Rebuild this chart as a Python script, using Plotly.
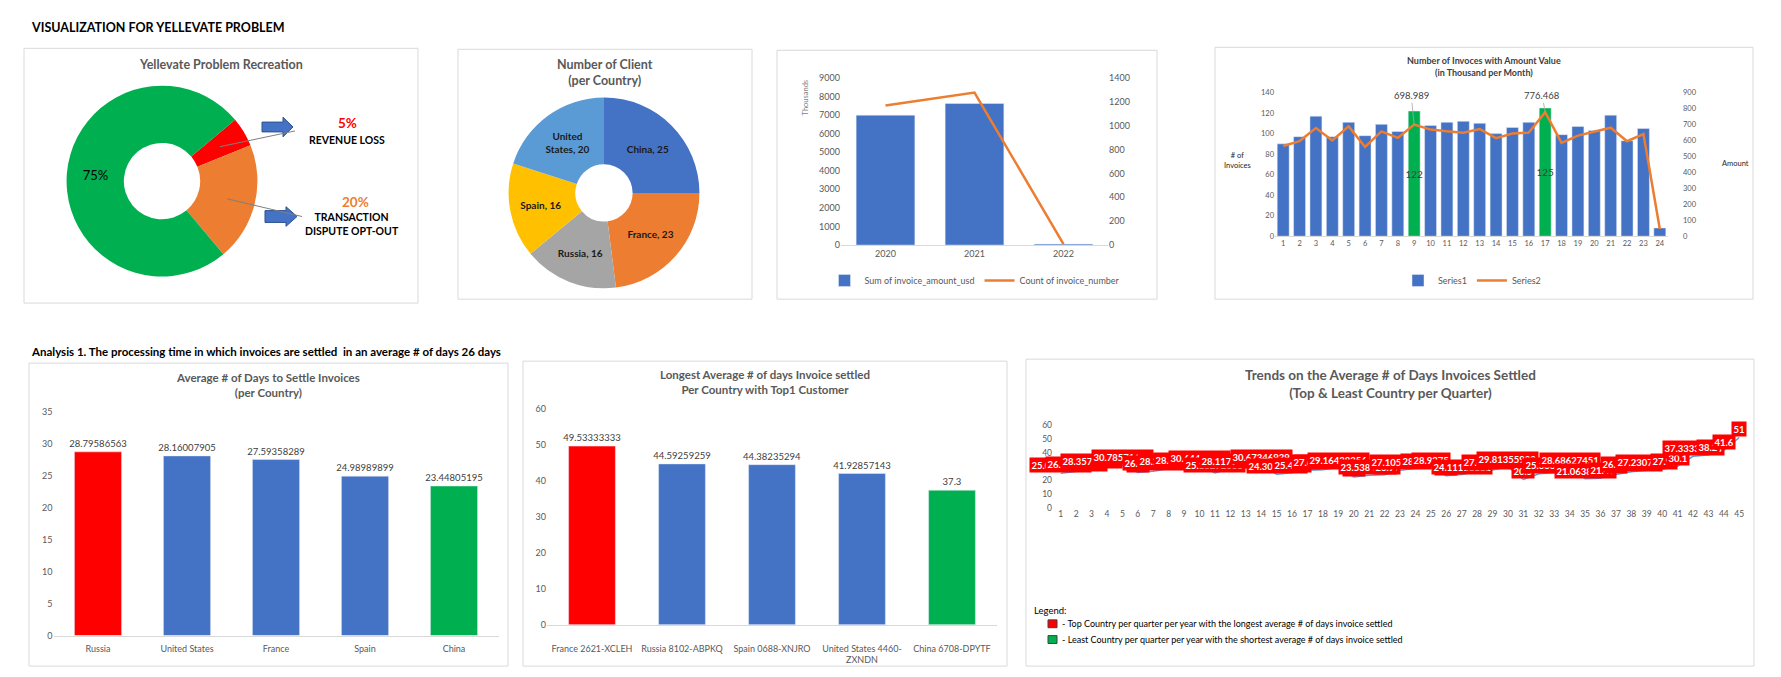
import plotly.graph_objects as go

W, H = 1781, 677
FONT = "Lato"
GREY = "#595959"
DARK = "#404040"
BLUE = "#4472C4"
ORANGE = "#ED7D31"
GREEN = "#00B050"
RED = "#FF0000"
FRAME = "#D9D9D9"

# ---- data ----
problem_labels = ["Revenue loss", "Transaction dispute opt-out", "Settled"]
problem_share = [5, 20, 75]
problem_colors = [RED, ORANGE, GREEN]

client_countries = ["China", "France", "Russia", "Spain", "United States"]
client_counts = [25, 23, 16, 16, 20]
client_colors = ["#4472C4", "#ED7D31", "#A5A5A5", "#FFC000", "#5B9BD5"]

years = ["2020", "2021", "2022"]
amount_usd_thousands = [6990, 7620, 52]
invoice_counts = [1168, 1276, 8]

months = [1, 2, 3, 4, 5, 6, 7, 8, 9, 10, 11, 12,
          13, 14, 15, 16, 17, 18, 19, 20, 21, 22, 23, 24]
invoices_per_month = [90, 97, 117, 97, 111, 98, 109, 102, 122, 108, 111, 112,
                      110, 100, 106, 111, 125, 99, 107, 103, 118, 93, 105, 8]
amount_per_month = [565, 596, 678, 600, 688, 559, 657, 616, 698.989, 668, 657, 649,
                    672, 614, 643, 649, 776.468, 585, 630, 655, 680, 595, 640, 45]
peak_months = [9, 17]

settle_countries = ["Russia", "United States", "France", "Spain", "China"]
settle_days = [28.79586563, 28.16007905, 27.59358289, 24.98989899, 23.44805195]

top_customers = ["France 2621-XCLEH", "Russia 8102-ABPKQ", "Spain 0688-XNJRO",
                 "United States 4460-<br>ZXNDN", "China 6708-DPYTF"]
top_customer_days = [49.53333333, 44.59259259, 44.38235294, 41.92857143, 37.3]

quarters = [1, 2, 3, 4, 5, 6, 7, 8, 9, 10, 11, 12, 13, 14, 15, 16, 17, 18, 19, 20,
            21, 22, 23, 24, 25, 26, 27, 28, 29, 30, 31, 32, 33, 34, 35, 36, 37, 38,
            39, 40, 41, 42, 43, 44, 45]
quarter_days = [25.04166667, 26.21052632, 28.35714286, 29.12, 30.78571429,
                25.5, 26.42857143, 28.22222222, 28.64705882, 30.64405797,
                25.18292683, 28.11764706, 29.2, 30.67346939, 24.30769231,
                25.4375, 27.25, 27.61538462, 29.16438356, 22.4,
                23.53846154, 23.9, 27.10526316, 28.46, 28.9275,
                23.2, 24.11111111, 26.3, 27.42857143, 29.81355932,
                20.5, 24.584, 25.33333333, 28.68627451, 21.06382979,
                21.4, 24.2, 26.14285714, 27.23076923, 27.9,
                30.1, 37.33333333, 38.2, 41.6, 51]


def fx(x):
    return x / W


def fy(y):
    return 1 - y / H


def note(text, x, y, size, color=DARK, bold=False, xanchor="center"):
    return dict(text=text, x=fx(x), y=fy(y), xref="paper", yref="paper",
                showarrow=False, xanchor=xanchor, yanchor="middle",
                font=dict(family=FONT, size=size, color=color,
                          weight="bold" if bold else "normal"))


def frame(x0, y0, x1, y1):
    return dict(type="rect", xref="paper", yref="paper", layer="below",
                x0=fx(x0), x1=fx(x1), y0=fy(y1), y1=fy(y0),
                line=dict(color=FRAME, width=1), fillcolor="rgba(0,0,0,0)")


def pie_domain(cx, cy, r):
    return dict(x=[fx(cx - r), fx(cx + r)], y=[fy(cy + r), fy(cy - r)])


def axis(domain, size=9, **kw):
    a = dict(domain=domain, showgrid=False, zeroline=False, ticks="",
             tickfont=dict(family=FONT, size=size, color=GREY))
    a.update(kw)
    return a


def block_arrow(x0, xh, xt, yc, sh, hh):
    pts = [(x0, yc - sh), (xh, yc - sh), (xh, yc - hh), (xt, yc),
           (xh, yc + hh), (xh, yc + sh), (x0, yc + sh)]
    path = "M " + " L ".join(f"{fx(x):.5f},{fy(y):.5f}" for x, y in pts) + " Z"
    return dict(type="path", xref="paper", yref="paper", path=path,
                fillcolor=BLUE, line=dict(color="#2F528F", width=1))


def leader(x0, y0, x1, y1):
    return dict(type="line", xref="paper", yref="paper",
                x0=fx(x0), y0=fy(y0), x1=fx(x1), y1=fy(y1),
                line=dict(color="#7F7F7F", width=1))


fig = go.Figure()

# donut: problem recreation
fig.add_trace(go.Pie(
    labels=problem_labels, values=problem_share, sort=False,
    direction="clockwise", rotation=50, hole=0.4,
    marker=dict(colors=problem_colors, line=dict(width=0)),
    text=[f"{v}%" if lab == "Settled" else "" for lab, v in zip(problem_labels, problem_share)],
    textinfo="text", textposition="inside", insidetextorientation="horizontal",
    textfont=dict(family=FONT, size=13, color="black"),
    domain=pie_domain(162, 178, 97), showlegend=False, hoverinfo="label+percent"))

# donut: clients per country
fig.add_trace(go.Pie(
    labels=client_countries, values=client_counts, sort=False,
    direction="clockwise", rotation=0, hole=0.3,
    marker=dict(colors=client_colors, line=dict(width=0)),
    text=[f"{c.replace(' ', '<br>')}, {n}" for c, n in zip(client_countries, client_counts)],
    textinfo="text", textposition="inside", insidetextorientation="horizontal",
    textfont=dict(family=FONT, size=10, color="#1A1A1A", weight="bold"),
    domain=pie_domain(604, 190, 97), showlegend=False))

# yearly amount and count
fig.add_trace(go.Bar(
    x=years, y=amount_usd_thousands, name="Sum of invoice_amount_usd",
    marker_color=BLUE, width=0.66, xaxis="x", yaxis="y", legend="legend"))
fig.add_trace(go.Scatter(
    x=years, y=invoice_counts, name="Count of invoice_number", mode="lines",
    line=dict(color=ORANGE, width=2.5), xaxis="x", yaxis="y2", legend="legend"))

# monthly invoices and amount
fig.add_trace(go.Bar(
    x=months, y=invoices_per_month, name="Series1", width=0.73,
    marker_color=[GREEN if m in peak_months else BLUE for m in months],
    text=[str(n) if m in peak_months else "" for m, n in zip(months, invoices_per_month)],
    textposition="inside", insidetextanchor="middle", constraintext="none",
    textangle=0, textfont=dict(family=FONT, size=10, color=DARK),
    xaxis="x2", yaxis="y3", legend="legend2"))
fig.add_trace(go.Scatter(
    x=months, y=amount_per_month, name="Series2", mode="lines",
    line=dict(color=ORANGE, width=2.5), xaxis="x2", yaxis="y4", legend="legend2"))

# average days per country
fig.add_trace(go.Bar(
    x=settle_countries, y=settle_days, width=0.53,
    marker_color=[RED if v == max(settle_days) else GREEN if v == min(settle_days) else BLUE
                  for v in settle_days],
    text=[str(v) for v in settle_days], textposition="outside",
    constraintext="none", cliponaxis=False, textangle=0,
    textfont=dict(family=FONT, size=9.5, color=DARK),
    xaxis="x3", yaxis="y5", showlegend=False))

# longest average per top customer
fig.add_trace(go.Bar(
    x=top_customers, y=top_customer_days, width=0.52,
    marker_color=[RED if v == max(top_customer_days) else GREEN if v == min(top_customer_days) else BLUE
                  for v in top_customer_days],
    text=[str(v) for v in top_customer_days], textposition="outside",
    constraintext="none", cliponaxis=False, textangle=0,
    textfont=dict(family=FONT, size=9.5, color=DARK),
    xaxis="x4", yaxis="y6", showlegend=False))

# quarterly trend
fig.add_trace(go.Scatter(
    x=quarters, y=quarter_days, mode="lines",
    line=dict(color="#5B9BD5", width=1.5),
    xaxis="x5", yaxis="y7", showlegend=False))

annotations = [
    note("VISUALIZATION FOR YELLEVATE PROBLEM", 29, 22, 12.5, "black", True, "left"),
    note("Yellevate Problem Recreation", 221, 59, 12.5, GREY, True),
    note(f"{problem_share[0]}%", 347, 119, 13.5, RED, True),
    note("REVENUE LOSS", 347, 136, 10.5, "black", True),
    note(f"{problem_share[1]}%", 355, 199, 13.5, ORANGE, True),
    note("TRANSACTION<br>DISPUTE OPT-OUT", 352, 222, 10.5, "black", True),
    note("Number of Client<br>(per Country)", 605, 68, 12.5, GREY, True),
    note("Thousands", 805, 93, 7.5, "#7F7F7F"),
    note("Number of Invoces with Amount Value<br>(in Thousand per Month)", 1484, 61, 9, DARK, True),
    note("# of<br>Invoices", 1237, 157, 7.5, "#262626"),
    note("Amount", 1735, 160, 7.5, "#262626"),
    note("Analysis 1. The processing time in which invoices are settled \u00a0in an average # of days 26 days",
         29, 351, 11.5, "black", True, "left"),
    note("Average # of Days to Settle Invoices<br>(per Country)", 268, 385, 11.5, GREY, True),
    note("Longest Average # of days Invoice settled<br>Per Country with Top1 Customer", 765, 382, 11.5, GREY, True),
    note("Trends on the Average # of Days Invoices Settled<br>(Top &amp; Least Country per Quarter)",
         1390, 384, 13.5, GREY, True),
    note("Legend:", 1032, 614, 9.5, "black", False, "left"),
    note("- Top Country per quarter per year with the longest average # of days invoice settled",
         1060, 628, 9, "black", False, "left"),
    note("- Least Country per quarter per year with the shortest average # of days invoice settled",
         1060, 644, 9, "black", False, "left"),
]
annotations[7]["textangle"] = -90

for m in peak_months:
    v = amount_per_month[months.index(m)]
    annotations.append(dict(
        x=m, y=v, xref="x2", yref="y4", text=f"{v:g}", showarrow=True,
        arrowhead=0, arrowwidth=0.8, arrowcolor="#A6A6A6", ax=-3, ay=880,
        axref="pixel", ayref="y4", font=dict(family=FONT, size=9.5, color=DARK)))

for q, v in zip(quarters, quarter_days):
    annotations.append(dict(
        x=q, y=v, xref="x5", yref="y7", text=f"{v:.10g}", showarrow=False,
        yshift=8, bgcolor=RED, borderpad=1.5,
        font=dict(family=FONT, size=9.5, color="white", weight="bold")))

shapes = [
    frame(24, 43, 418, 302), frame(458, 44, 752, 298), frame(777, 45, 1157, 298),
    frame(1215, 42, 1753, 298), frame(29, 363, 508, 671), frame(523, 361, 1007, 671),
    frame(1026, 359, 1754, 671),
    block_arrow(262, 283, 293, 123, 5, 10),
    block_arrow(265, 286, 297, 214, 6, 10),
    leader(220, 143, 295, 127),
    leader(227, 196, 302, 214),
    dict(type="rect", xref="paper", yref="paper", x0=fx(1048), x1=fx(1057),
         y0=fy(632), y1=fy(624), fillcolor=RED, line=dict(color=DARK, width=1)),
    dict(type="rect", xref="paper", yref="paper", x0=fx(1048), x1=fx(1057),
         y0=fy(648), y1=fy(640), fillcolor=GREEN, line=dict(color=DARK, width=1)),
]

legend_style = dict(orientation="h", xanchor="center", yanchor="middle",
                    font=dict(family=FONT, size=9, color=GREY),
                    bgcolor="rgba(0,0,0,0)", itemwidth=30)

fig.update_layout(
    width=W, height=H, margin=dict(l=0, r=0, t=0, b=0),
    paper_bgcolor="white", plot_bgcolor="white",
    font=dict(family=FONT, color=GREY),
    xaxis=axis([fx(841), fx(1108)], anchor="y", type="category",
               showline=True, linecolor=FRAME),
    yaxis=axis([fy(243), fy(73)], anchor="x", range=[0, 9000], dtick=1000),
    yaxis2=axis(None, overlaying="y", side="right", anchor="x",
                range=[0, 1400], dtick=200),
    xaxis2=axis([fx(1275), fx(1668)], size=7.5, anchor="y3", range=[0.5, 24.5],
                dtick=1, tick0=1, showline=True, linecolor=FRAME),
    yaxis3=axis([fy(234), fy(88)], size=7.5, anchor="x2", range=[0, 140], dtick=20),
    yaxis4=axis(None, size=7.5, overlaying="y3", side="right", anchor="x2",
                range=[0, 900], dtick=100, ticklabelstandoff=14),
    xaxis3=axis([fx(53.5), fx(498.5)], anchor="y5", type="category",
                showline=True, linecolor=FRAME, ticklabelstandoff=5),
    yaxis5=axis([fy(640), fy(413)], anchor="x3", range=[0, 35], dtick=5),
    xaxis4=axis([fx(547), fx(997)], anchor="y6", type="category",
                showline=True, linecolor=FRAME, ticklabelstandoff=15),
    yaxis6=axis([fy(629), fy(409)], anchor="x4", range=[0, 60], dtick=10),
    xaxis5=axis([fx(1053), fx(1747)], size=8.5, anchor="y7", range=[0.5, 45.5],
                dtick=1, tick0=1),
    yaxis7=axis([fy(510), fy(426)], size=8.5, anchor="x5", range=[0, 60], dtick=10),
    legend=dict(legend_style, x=fx(975), y=fy(279)),
    legend2=dict(legend_style, x=fx(1472), y=fy(279)),
    annotations=annotations,
    shapes=shapes,
)

# overlaying axes take no domain
fig.layout.yaxis2.domain = None
fig.layout.yaxis4.domain = None

# the page's default body margin would push the whole dashboard 8px off
fig.write_html("out.html", config={"displayModeBar": False},
               post_script="document.body.style.margin='0';")
